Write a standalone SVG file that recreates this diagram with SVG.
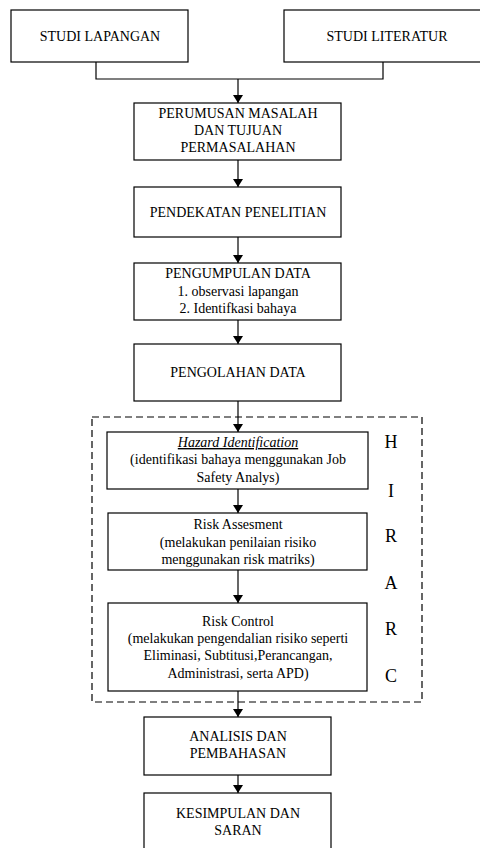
<svg xmlns="http://www.w3.org/2000/svg" width="480" height="848" viewBox="0 0 480 848">
<defs>
<marker id="ah" markerWidth="8" markerHeight="10" refX="8" refY="5" orient="auto" markerUnits="userSpaceOnUse" viewBox="0 0 8 10">
<path d="M0,0 L8,5 L0,10 z" fill="#000"/>
</marker>
<style>
.box{fill:#fff;stroke:#000;stroke-width:1.2}
.t{font-family:"Liberation Serif","Times New Roman",serif;font-size:14px;fill:#000;text-anchor:middle}
.big{font-family:"Liberation Serif","Times New Roman",serif;font-size:18px;fill:#000;text-anchor:middle}
.c{fill:none;stroke:#000;stroke-width:1.2}
.dash{fill:none;stroke:#000;stroke-width:1.2;stroke-dasharray:7,4}
</style>
</defs>
<rect width="480" height="848" fill="#fff"/>

<g id="hirarc-frame">
<rect class="dash" x="92" y="417" width="330" height="285"/>
<text class="big" x="391" y="448">H</text>
<text class="big" x="391" y="497">I</text>
<text class="big" x="391" y="542">R</text>
<text class="big" x="391" y="589">A</text>
<text class="big" x="391" y="635">R</text>
<text class="big" x="391" y="682">C</text>
</g>

<g id="connectors">
<path class="c" d="M96,62 V79 H383 V62"/>
<path class="c" d="M238,79 V103" marker-end="url(#ah)"/>
<path class="c" d="M238,160 V187" marker-end="url(#ah)"/>
<path class="c" d="M238,237 V263" marker-end="url(#ah)"/>
<path class="c" d="M238,320 V344" marker-end="url(#ah)"/>
<path class="c" d="M238,401 V432" marker-end="url(#ah)"/>
<path class="c" d="M238,489 V513" marker-end="url(#ah)"/>
<path class="c" d="M238,570 V603" marker-end="url(#ah)"/>
<path class="c" d="M238,691 V717" marker-end="url(#ah)"/>
<path class="c" d="M238,775 V793" marker-end="url(#ah)"/>
</g>

<g id="studi-lapangan">
<rect class="box" x="11" y="10" width="177" height="52"/>
<text class="t" x="100" y="41">STUDI LAPANGAN</text>
</g>
<g id="studi-literatur">
<rect class="box" x="284" y="10" width="205" height="52"/>
<text class="t" x="387" y="41">STUDI LITERATUR</text>
</g>
<g id="perumusan">
<rect class="box" x="134" y="103" width="207" height="57"/>
<text class="t" x="238" y="118">PERUMUSAN MASALAH</text>
<text class="t" x="238" y="135">DAN TUJUAN</text>
<text class="t" x="238" y="152">PERMASALAHAN</text>
</g>
<g id="pendekatan">
<rect class="box" x="134" y="187" width="207" height="50"/>
<text class="t" x="238" y="217">PENDEKATAN PENELITIAN</text>
</g>
<g id="pengumpulan">
<rect class="box" x="134" y="263" width="207" height="57"/>
<text class="t" x="238" y="278">PENGUMPULAN DATA</text>
<text class="t" x="238" y="296">1. observasi lapangan</text>
<text class="t" x="238" y="313">2. Identifkasi bahaya</text>
</g>
<g id="pengolahan">
<rect class="box" x="134" y="344" width="207" height="57"/>
<text class="t" x="238" y="377">PENGOLAHAN DATA</text>
</g>
<g id="hazard">
<rect class="box" x="107" y="432" width="261" height="57"/>
<text class="t" x="238" y="447" font-style="italic" text-decoration="underline">Hazard Identification</text>
<text class="t" x="238" y="464">(identifikasi bahaya menggunakan Job</text>
<text class="t" x="238" y="482">Safety Analys)</text>
</g>
<g id="risk-assesment">
<rect class="box" x="108" y="513" width="259" height="57"/>
<text class="t" x="238" y="529">Risk Assesment</text>
<text class="t" x="238" y="547">(melakukan penilaian risiko</text>
<text class="t" x="238" y="564">menggunakan risk matriks)</text>
</g>
<g id="risk-control">
<rect class="box" x="108" y="603" width="259" height="88"/>
<text class="t" x="238" y="626">Risk Control</text>
<text class="t" x="238" y="643">(melakukan pengendalian risiko seperti</text>
<text class="t" x="238" y="660">Eliminasi, Subtitusi,Perancangan,</text>
<text class="t" x="238" y="678">Administrasi, serta APD)</text>
</g>
<g id="analisis">
<rect class="box" x="144" y="717" width="187" height="58"/>
<text class="t" x="238" y="741">ANALISIS DAN</text>
<text class="t" x="238" y="758">PEMBAHASAN</text>
</g>
<g id="kesimpulan">
<rect class="box" x="144" y="793" width="187" height="60"/>
<text class="t" x="238" y="818">KESIMPULAN DAN</text>
<text class="t" x="238" y="835">SARAN</text>
</g>
</svg>
